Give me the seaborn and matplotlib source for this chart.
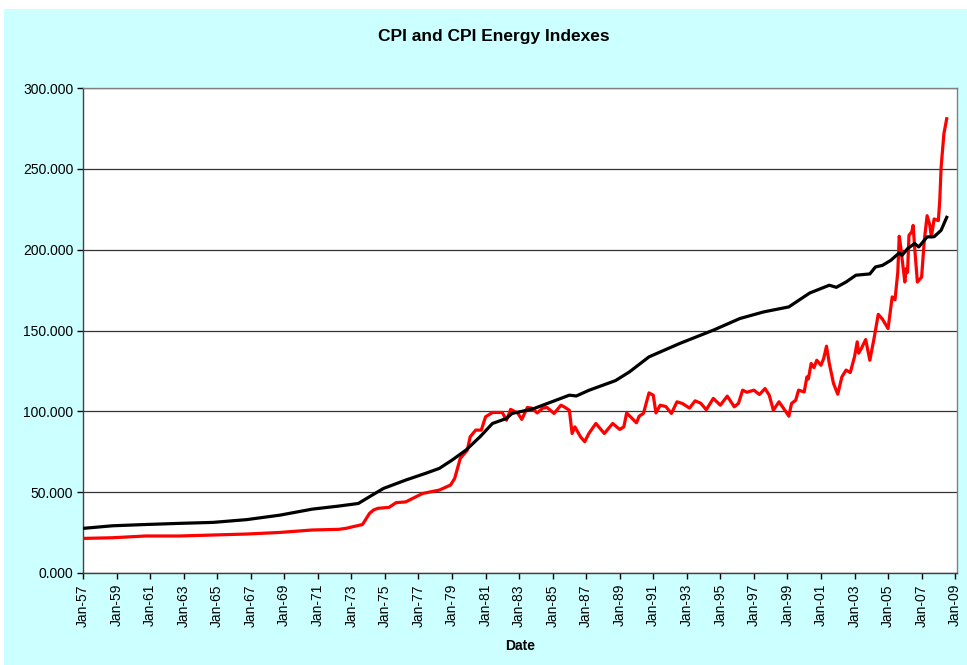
import pandas as pd
import matplotlib
matplotlib.use('Agg')
import matplotlib.pyplot as plt
import matplotlib.dates as mdates
import matplotlib.ticker as mticker
from matplotlib.patches import Rectangle
import seaborn as sns

# values
cpi_dates = ['1957-01', '1958-10', '1960-10', '1962-10', '1964-10', '1966-10', '1968-10',
             '1970-09', '1972-04', '1973-06', '1974-04', '1974-12', '1976-04', '1977-06',
             '1978-04', '1979-01', '1979-11', '1980-09', '1981-06', '1982-04', '1982-08',
             '1983-11', '1986-01', '1986-06', '1987-03', '1988-10', '1989-08', '1990-10',
             '1992-08', '1994-08', '1996-03', '1997-08', '1999-02', '2000-05', '2001-07',
             '2001-12', '2002-07', '2003-02', '2003-12', '2004-04', '2004-09', '2005-03',
             '2005-09', '2005-11', '2006-03', '2006-08', '2006-11', '2007-05', '2007-10',
             '2008-03', '2008-07']
cpi_values = [27.6, 29.2, 30.0, 30.7, 31.3, 33.0, 35.8,
              39.5, 41.4, 43.0, 48.2, 52.3, 57.5, 61.6,
              64.7, 69.8, 76.0, 84.2, 92.5, 95.6, 98.7,
              101.5, 110.0, 109.5, 113.0, 119.0, 124.4, 133.7,
              142.0, 150.2, 157.4, 161.5, 164.6, 173.2, 178.0,
              176.7, 180.0, 184.2, 185.0, 189.3, 190.3, 193.4,
              198.0, 196.5, 200.6, 203.8, 201.7, 207.9, 208.0,
              212.0, 220.0]

energy_dates = ['1957-01', '1958-10', '1960-10', '1962-10', '1964-10', '1966-10', '1968-10',
                '1970-09', '1972-04', '1972-09', '1973-09', '1974-02', '1974-05', '1974-08',
                '1975-04', '1975-09', '1976-04', '1977-04', '1978-04', '1978-12', '1979-03',
                '1979-07', '1979-12', '1980-02', '1980-06', '1980-10', '1981-01', '1981-06',
                '1982-01', '1982-04', '1982-07', '1982-12', '1983-03', '1983-07', '1983-10',
                '1984-02', '1984-06', '1984-09', '1985-02', '1985-07', '1985-10', '1986-01',
                '1986-03', '1986-05', '1986-09', '1986-12', '1987-03', '1987-08', '1988-02',
                '1988-08', '1989-01', '1989-04', '1989-06', '1990-01', '1990-03', '1990-06',
                '1990-10', '1991-01', '1991-03', '1991-06', '1991-10', '1992-02', '1992-06',
                '1992-10', '1993-03', '1993-07', '1993-11', '1994-03', '1994-08', '1995-01',
                '1995-06', '1995-11', '1996-02', '1996-05', '1996-08', '1997-01', '1997-05',
                '1997-09', '1997-12', '1998-03', '1998-07', '1998-12', '1999-02', '1999-04',
                '1999-07', '1999-09', '2000-01', '2000-03', '2000-04', '2000-06', '2000-08',
                '2000-10', '2001-01', '2001-03', '2001-05', '2001-07', '2001-10', '2002-01',
                '2002-04', '2002-07', '2002-10', '2003-01', '2003-03', '2003-04', '2003-06',
                '2003-09', '2003-12', '2004-03', '2004-06', '2004-09', '2005-01', '2005-04',
                '2005-06', '2005-08', '2005-09', '2005-10', '2006-01', '2006-02', '2006-03',
                '2006-04', '2006-06', '2006-07', '2006-08', '2006-10', '2006-12', '2007-01',
                '2007-03', '2007-05', '2007-07', '2007-08', '2007-10', '2008-01', '2008-02',
                '2008-03', '2008-05', '2008-07']
energy_values = [21.4, 21.8, 22.9, 22.9, 23.5, 24.1, 25.1,
                 26.6, 27.0, 27.6, 30.0, 36.9, 39.0, 40.0,
                 40.6, 43.5, 44.0, 49.2, 51.3, 54.4, 58.5,
                 70.9, 76.0, 84.2, 88.4, 88.4, 96.6, 99.3,
                 99.3, 94.5, 101.2, 99.0, 95.0, 102.4, 102.0,
                 99.0, 102.0, 102.4, 98.7, 103.8, 102.4, 100.6,
                 86.3, 90.4, 84.2, 81.2, 86.3, 92.5, 86.3,
                 92.5, 88.8, 90.4, 99.0, 92.9, 97.0, 98.7,
                 111.4, 110.0, 99.0, 103.8, 103.0, 98.7, 105.9,
                 104.8, 102.0, 106.5, 105.0, 101.0, 108.0, 103.8,
                 109.4, 102.8, 105.0, 113.1, 111.8, 113.1, 110.4,
                 114.1, 110.0, 100.7, 105.9, 99.7, 97.0, 104.9,
                 106.9, 113.1, 112.0, 121.3, 120.0, 129.6, 127.0,
                 131.6, 128.5, 132.7, 140.3, 129.6, 117.2, 110.6,
                 121.3, 125.5, 124.0, 133.7, 143.0, 136.0, 139.0,
                 144.4, 131.6, 145.0, 160.0, 157.0, 151.2, 170.8,
                 169.0, 186.2, 208.3, 202.0, 180.0, 188.3, 186.0,
                 208.9, 211.0, 215.0, 202.0, 180.0, 182.0, 183.0,
                 205.8, 221.0, 215.0, 207.9, 219.0, 218.0, 230.5,
                 251.0, 271.8, 281.0]

x_tick_dates = ['1957-01', '1959-01', '1961-01', '1963-01', '1965-01', '1967-01', '1969-01',
                '1971-01', '1973-01', '1975-01', '1977-01', '1979-01', '1981-01', '1983-01',
                '1985-01', '1987-01', '1989-01', '1991-01', '1993-01', '1995-01', '1997-01',
                '1999-01', '2001-01', '2003-01', '2005-01', '2007-01', '2009-01']
y_ticks = [0, 50, 100, 150, 200, 250, 300]

cpi = pd.DataFrame({'Date': pd.to_datetime(cpi_dates), 'Index': cpi_values})
energy = pd.DataFrame({'Date': pd.to_datetime(energy_dates), 'Index': energy_values})

plt.rcParams['font.family'] = ['Liberation Sans', 'DejaVu Sans']

fig = plt.figure(figsize=(9.67, 6.65), dpi=100)
fig.patch.set_facecolor('white')
# cyan chart area, behind everything
fig.patches.append(Rectangle((4 / 967, 0), 1, 1 - 9 / 665, transform=fig.transFigure,
                             facecolor='#CCFFFF', edgecolor='none', zorder=-10))

ax = fig.add_axes([83 / 967, 1 - 573 / 665, (957 - 83) / 967, (573 - 88) / 665])
ax.set_zorder(1)
ax.set_facecolor('white')

sns.lineplot(data=energy, x='Date', y='Index', ax=ax, color='#FF0000', linewidth=2.3, zorder=3)
sns.lineplot(data=cpi, x='Date', y='Index', ax=ax, color='#000000', linewidth=2.3, zorder=4)

ax.set_xlim(pd.Timestamp('1957-01-01'), pd.Timestamp('2009-02-10'))
ax.set_ylim(0, 300)
ax.set_yticks(y_ticks)
ax.yaxis.set_major_formatter(mticker.FormatStrFormatter('%.3f'))
ax.set_xticks(pd.to_datetime(x_tick_dates))
ax.xaxis.set_major_formatter(mdates.DateFormatter('%b-%y'))
ax.yaxis.grid(True, color='#333333', linewidth=0.9)
ax.set_axisbelow(True)

for lab in ax.get_xticklabels():
    lab.set_rotation(90)
ax.tick_params(axis='both', labelsize=10, colors='#000000', direction='out', length=4, width=1)
ax.tick_params(axis='x', pad=4)
ax.tick_params(axis='y', pad=3)

ax.spines['left'].set_color('#404040')
ax.spines['bottom'].set_color('#404040')
ax.spines['top'].set_color('#808080')
ax.spines['right'].set_color('#808080')
for s in ax.spines.values():
    s.set_linewidth(1.0)

ax.set_xlabel('')
ax.set_ylabel('')
fig.text(494 / 967, 1 - 36 / 665, 'CPI and CPI Energy Indexes', ha='center', va='center',
         fontsize=12.5, fontweight='bold')
fig.text(520 / 967, 1 - 646 / 665, 'Date', ha='center', va='center',
         fontsize=10, fontweight='bold')

fig.savefig('out.png', dpi=100)
